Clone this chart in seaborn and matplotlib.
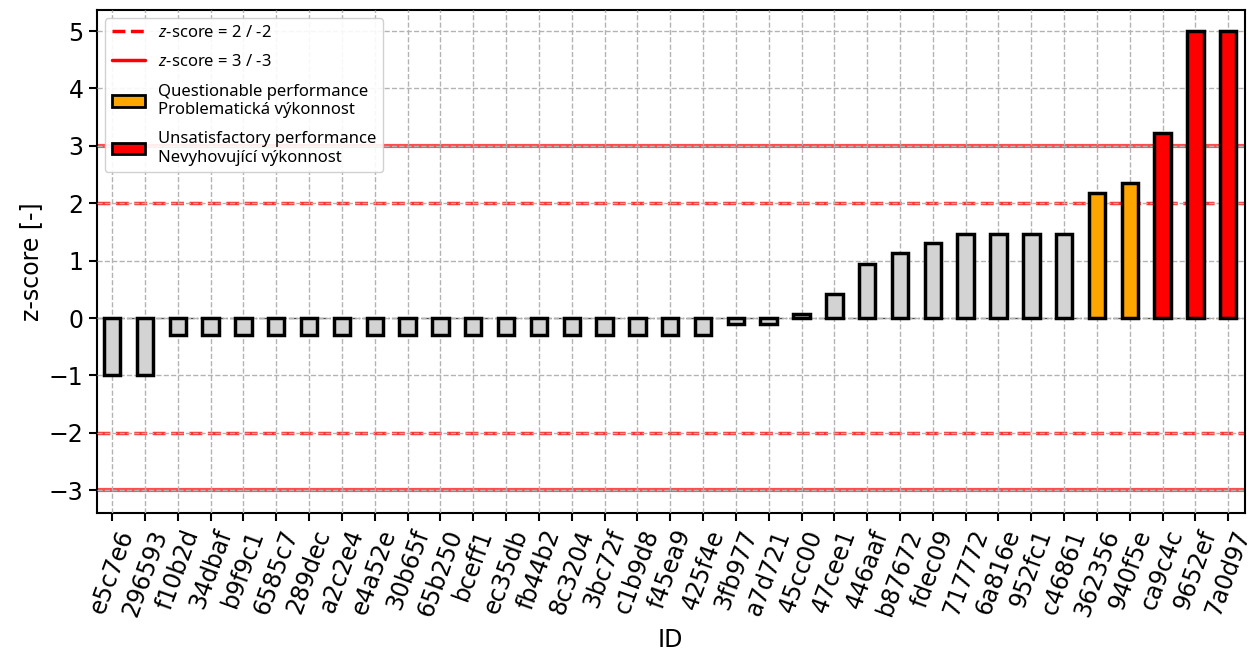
import seaborn as sns
import matplotlib.pyplot as plt
from matplotlib.lines import Line2D
from matplotlib.patches import Patch

sns.set_style("ticks")
plt.rcParams["text.color"] = "black"
plt.rcParams["axes.labelcolor"] = "black"
plt.rcParams["xtick.color"] = "black"
plt.rcParams["ytick.color"] = "black"
plt.rcParams["mathtext.fontset"] = "custom"
plt.rcParams["mathtext.it"] = "Noto Sans:italic"

ids = ["e5c7e6", "296593", "f10b2d", "34dbaf", "b9f9c1", "6585c7", "289dec",
       "a2c2e4", "e4a52e", "30b65f", "65b250", "bceff1", "ec35db", "fb44b2",
       "8c3204", "3bc72f", "c1b9d8", "f45ea9", "425f4e", "3fb977", "a7d721",
       "45cc00", "47cee1", "446aaf", "b87672", "fdec09", "717772", "6a816e",
       "952fc1", "c46861", "362356", "940f5e", "ca9c4c", "9652ef", "7a0d97"]
zscores = [-0.99, -0.99, -0.30, -0.29, -0.29, -0.29, -0.29,
           -0.29, -0.29, -0.29, -0.29, -0.29, -0.29, -0.29,
           -0.29, -0.29, -0.29, -0.29, -0.29, -0.11, -0.11,
           0.07, 0.42, 0.94, 1.13, 1.30, 1.47, 1.47,
           1.47, 1.47, 2.17, 2.35, 3.23, 5.0, 5.0]


def bar_color(z):
    if abs(z) >= 3:
        return "red"
    if abs(z) >= 2:
        return "orange"
    return "lightgray"


colors = [bar_color(z) for z in zscores]

fig = plt.figure(figsize=(12.56, 6.57), dpi=100)
ax = fig.add_axes([0.077, 0.219, 0.914, 0.766])

sns.barplot(x=ids, y=zscores, hue=ids, palette=colors, legend=False,
            width=0.5, edgecolor="black", linewidth=2.5, saturation=1,
            zorder=3, ax=ax)

# limit lines
for y in (2, -2):
    ax.axhline(y, color="red", ls="--", lw=2.5, alpha=0.8, zorder=1)
for y in (3, -3):
    ax.axhline(y, color="red", ls="-", lw=3, alpha=0.7, zorder=1)
ax.axhline(0, color="0.3", ls="-.", lw=1, zorder=2)

ax.grid(True, ls="--", color="0.7", lw=1, zorder=1.5)
ax.set_axisbelow(False)
for sp in ax.spines.values():
    sp.set_linewidth(1.5)
    sp.set_color("black")

ax.set_xlim(-0.47, 34.5)
ax.set_ylim(-3.4, 5.37)
ax.set_yticks(range(-3, 6))
ax.tick_params(axis="both", width=1.5, length=6, labelsize=17)
ax.tick_params(axis="x", rotation=70)
for lab in ax.get_xticklabels():
    lab.set_ha("center")
ax.set_xlabel("ID", fontsize=17, labelpad=6)
ax.set_ylabel("z-score [-]", fontsize=17)

handles = [
    Line2D([], [], color="red", ls="--", lw=2.5),
    Line2D([], [], color="red", ls="-", lw=2.5),
    Patch(facecolor="orange", edgecolor="black", linewidth=2),
    Patch(facecolor="red", edgecolor="black", linewidth=2),
]
labels = ["$z$-score = 2 / -2", "$z$-score = 3 / -3",
          "Questionable performance\nProblematická výkonnost",
          "Unsatisfactory performance\nNevyhovující výkonnost"]
ax.legend(handles, labels, loc="upper left", framealpha=0.9,
          prop={"family": "Noto Sans", "size": 12}, labelspacing=0.8)

plt.savefig("out.png", dpi=100)
plt.close()
